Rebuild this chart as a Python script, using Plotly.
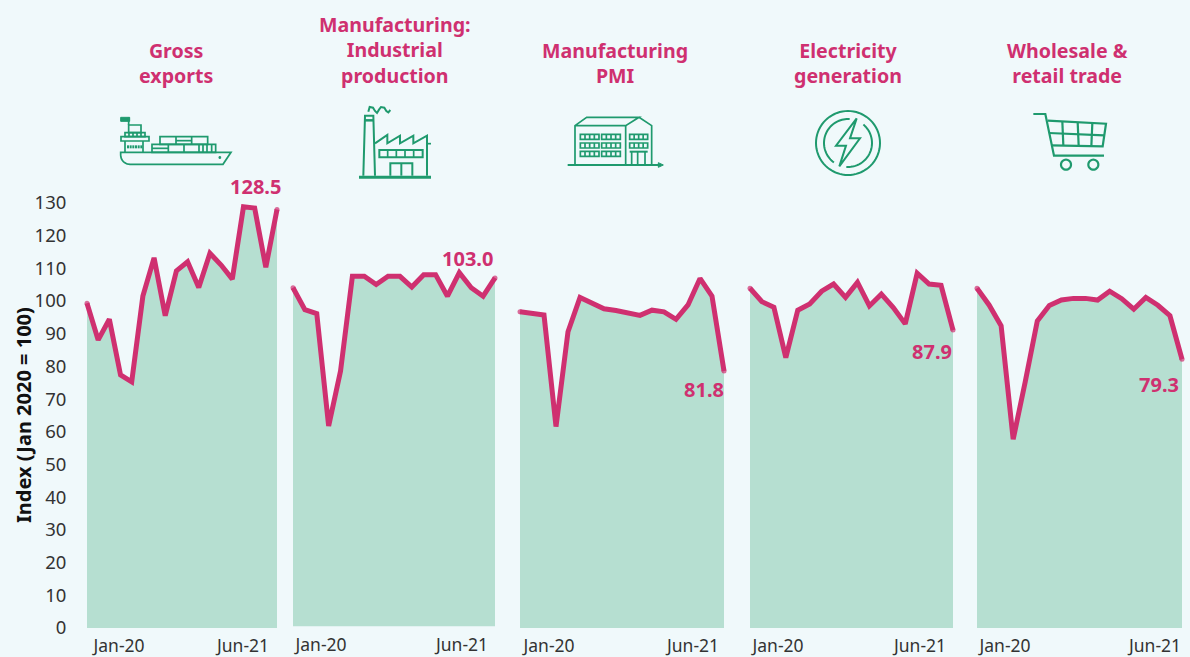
import math
import plotly.graph_objects as go

months = ["Jan-20","Feb-20","Mar-20","Apr-20","May-20","Jun-20","Jul-20","Aug-20","Sep-20","Oct-20","Nov-20","Dec-20",
          "Jan-21","Feb-21","Mar-21","Apr-21","May-21","Jun-21"]
titles = ["Gross<br>exports", "Manufacturing:<br>Industrial<br>production", "Manufacturing<br>PMI",
          "Electricity<br>generation", "Wholesale &<br>retail trade"]
gross_exports = [99.3,88.1,94.4,77.4,75.3,101.5,113.2,95.5,109.2,112,104.1,114.6,111,106.7,128.8,128.4,110.3,128]
industrial = [103.6,96.9,95.7,61.3,78.1,107.1,107.1,104.6,107.1,107.1,103.8,107.6,107.6,101,108.2,103.6,101,106.6]
pmi = [96.7,96.2,95.7,61.6,90.6,101.1,99.3,97.6,97.1,96.2,95.6,97.2,96.7,94.4,98.8,106.9,101.5,78.6]
electricity = [103.9,99.8,98.1,82.7,97.2,99.1,103,105.2,101.1,105.7,98.5,102.1,98,93,108.5,105.2,104.8,91.1]
retail = [103.9,98.8,92.4,57.7,75.3,93.9,98.6,100.3,100.8,100.8,100.3,103,100.7,97.5,101.1,98.7,95.5,82.2]
series = [gross_exports, industrial, pmi, electricity, retail]
end_labels = ["128.5","103.0","81.8","87.9","79.3"]
y_ticks = list(range(0,140,10))
y_title = "Index (Jan 2020 = 100)"

W, H = 1190, 657
BG, PINK, FILL, GREEN, INK = "#f0f9fb", "#cf3070", "#b6dfd1", "#1f9a6e", "#333333"
FONT = "Noto Sans"
px_per_unit = 3.27
panels = [(87,277,628),(293,495,626.5),(520,724,628),(750,953,628),(977,1182,628)]
label_px = [(255,186),(467,258),(703.5,389),(932,351),(1159,384)]
title_cx = [176,395,615,848,1067]
tick_cx = [(119,243),(321,462),(549,693),(778,920),(1005,1155)]
PAD = 4  # px of extra plot area beside the first and last point so the thick line is not clipped

fig = go.Figure()
layout = dict(template="none", width=W, height=H, margin=dict(l=0,r=0,t=0,b=0,autoexpand=False), paper_bgcolor=BG, plot_bgcolor="rgba(0,0,0,0)",
              showlegend=False, font=dict(family=FONT, color=INK))
ann = []
for i,(vals,(x0,x1,yb)) in enumerate(zip(series,panels)):
    s = "" if i==0 else str(i+1)
    xs = list(range(len(vals)))
    sizes = [5]+[0]*(len(vals)-2)+[5]
    fig.add_trace(go.Scatter(x=xs,y=vals,xaxis="x"+s,yaxis="y"+s,mode="lines+markers",fill="tozeroy",
                             fillcolor=FILL,line=dict(color=PINK,width=5),cliponaxis=False,
                             marker=dict(size=sizes,color=PINK,line=dict(width=0)),
                             text=[months[j] for j in xs],hoverinfo="text+y"))
    step = (x1-x0)/17
    a,b = tick_cx[i]
    layout["xaxis"+s] = dict(domain=[(x0-PAD)/W,(x1+PAD)/W],range=[-PAD/step,17+PAD/step],anchor="y"+s,showgrid=False,zeroline=False,automargin=False,
                             showline=False,tickmode="array",tickvals=[(a-x0)/step,(b-x0)/step],
                             ticktext=[months[0],months[-1]],ticks="outside",ticklen=2,tickcolor="rgba(0,0,0,0)",
                             tickfont=dict(family=FONT,size=17.5,color=INK))
    yd = dict(domain=[1-yb/H,1-(yb-130*px_per_unit)/H],range=[0,130],anchor="x"+s,showgrid=False,zeroline=False,showline=False,automargin=False)
    if i==0:
        yd.update(tickmode="array",tickvals=y_ticks,ticks="outside",ticklen=12,tickcolor="rgba(0,0,0,0)",
                  tickfont=dict(family=FONT,size=18.5,color=INK))
    else:
        yd.update(showticklabels=False,ticks="")
    layout["yaxis"+s] = yd
    ann.append(dict(text="<b>%s</b>"%titles[i],xref="paper",yref="paper",x=title_cx[i]/W,y=1-62.5/H if i!=1 else 1-50/H,
                    xanchor="center",yanchor="middle",showarrow=False,align="center",
                    font=dict(family=FONT,size=19.6,color=PINK)))
    lx,ly = label_px[i]
    ann.append(dict(text="<b>%s</b>"%end_labels[i],xref="paper",yref="paper",x=lx/W,y=1-ly/H,xanchor="center",
                    yanchor="middle",showarrow=False,font=dict(family=FONT,size=20,color=PINK)))
ann.append(dict(text="<b>%s</b>"%y_title,xref="paper",yref="paper",x=23/W,y=1-415/H,xanchor="center",yanchor="middle",
                textangle=-90,showarrow=False,font=dict(family=FONT,size=20,color="#111111")))
layout["annotations"] = ann

shapes = []
def P(ox,oy,pts,closed=False,width=1.7,fill=None):
    d = "M "+" L ".join("%.5f %.5f"%((ox+x/3)/W,1-(oy+y/3)/H) for x,y in pts)+(" Z" if closed else "")
    sh = dict(type="path",xref="paper",yref="paper",path=d,line=dict(color=GREEN,width=width),layer="above")
    if fill: sh["fillcolor"]=fill
    shapes.append(sh)
def R(ox,oy,x0,y0,x1,y1,**k): P(ox,oy,[(x0,y0),(x1,y0),(x1,y1),(x0,y1)],closed=True,**k)
def L(ox,oy,x0,y0,x1,y1,**k): P(ox,oy,[(x0,y0),(x1,y1)],**k)
def arc(cx,cy,r,a0,a1,n=48):
    return [(cx+r*math.cos(math.radians(a0+(a1-a0)*t/n)),cy+r*math.sin(math.radians(a0+(a1-a0)*t/n))) for t in range(n+1)]

# ship
o=(115,110)
R(*o,17,22,44,34,fill=GREEN,width=1)
L(*o,41,22,41,45)
R(*o,41,45,78,68); R(*o,30,68,90,80); R(*o,18,80,102,93)
for x in (42,54,66,78): L(*o,x,68,x,80)
L(*o,30,93,30,127); L(*o,84,93,84,127)
for x in (39,47,55,63,71,79): L(*o,x,106,x,115,width=2)
R(*o,135,80,278,103); R(*o,111,103,302,127)
for x in (183,230): L(*o,x,80,x,103)
L(*o,183,92,230,92); L(*o,111,115,160,115)
for x in (160,207,252,264,276,290): L(*o,x,103,x,127)
P(*o,[(17,127),(348,127),(324,163),(45,163)]+arc(45,135,28,90,180,10),closed=True)
R(*o,312,140,317,145,fill=GREEN,width=1)

# factory
o=(355,105)
pts=[(40,20),(44,6),(54,8),(60,18),(66,24),(72,14),(78,6),(88,8),(94,18),(100,22),(106,15)]
P(*o,pts,width=2)
P(*o,[(25,212),(30,32),(55,32),(60,212)],width=2); L(*o,27,46,57,46,width=2.5)
P(*o,[(60,115),(97,90),(97,115),(135,92),(135,115),(175,92),(175,115),(216,92),(216,212)],width=2)
L(*o,216,116,228,116)
R(*o,73,135,203,157,width=2)
for x in (98,124,150,176): L(*o,x,135,x,157)
P(*o,[(106,212),(106,175),(172,175),(172,212)],width=2); L(*o,139,175,139,212,width=2)
L(*o,12,217,228,217,width=3)

# building
o=(565,110)
L(*o,8,165,282,165,width=2)
P(*o,[(280,158),(295,165),(280,172)],closed=True,fill=GREEN,width=1)
P(*o,[(30,165),(30,47),(65,22),(222,22),(182,47),(30,47)])
L(*o,182,47,182,165); P(*o,[(222,22),(260,47),(260,165)])
for (xa,xb,rows) in ((46,102,(73,99,124)),(110,166,(73,99,124)),(194,248,(73,99))):
    for y in rows:
        R(*o,xa,y,xb,y+15)
        for j in (1,2,3):
            L(*o,xa+(xb-xa)*j/4,y,xa+(xb-xa)*j/4,y+15)
L(*o,194,125,248,125,width=2)
for x in (200,218,240): L(*o,x,125,x,165)

# electricity
o=(810,105)
P(*o,arc(114,114,96,0,360,72),closed=True,width=2)
P(*o,arc(114,114,72,-86,-234,40),width=2)
P(*o,arc(114,114,72,-50,94,40),width=2)
P(*o,[(140,40),(78,122),(108,122),(88,184),(150,100),(120,100)],closed=True,width=2)

# cart
o=(1030,108)
P(*o,[(10,18),(46,18),(72,143),(222,143)],width=2.2)
P(*o,[(53,38),(228,47),(218,115),(65,112)],width=2.2)
L(*o,57,75,222,82,width=2.2)
L(*o,97,40,100,112,width=2.2); L(*o,143,42,146,113,width=2.2); L(*o,187,45,184,115,width=2.2)
P(*o,arc(108,170,15,0,360,36),closed=True,width=2.2)
P(*o,arc(190,170,15,0,360,36),closed=True,width=2.2)

layout["shapes"]=shapes
fig.update_layout(**layout)
fig.write_html("out.html",config=dict(displayModeBar=False),post_script="document.body.style.margin='0';")
